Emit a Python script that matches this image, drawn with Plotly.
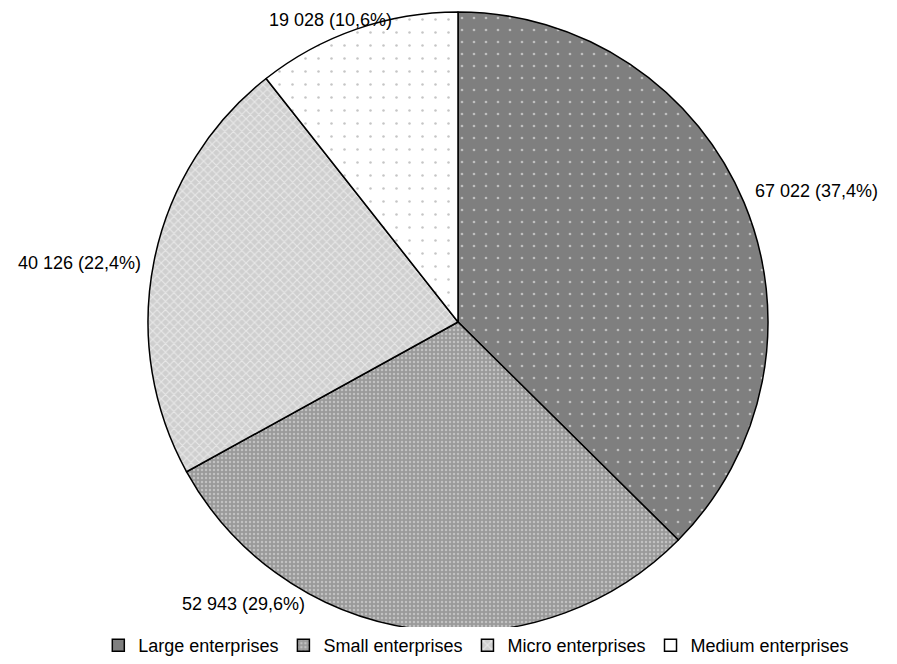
import plotly.graph_objects as go

# Enterprise size classes and their counts
categories = ["Large enterprises", "Small enterprises", "Micro enterprises", "Medium enterprises"]
values = [67022, 52943, 40126, 19028]

# Fill patterns per slice (monochrome print style)
pattern_shapes = [".", ".", "x", "."]
pattern_bg = ["#7f7f7f", "#9a9a9a", "#cfcfcf", "#ffffff"]
pattern_fg = ["#ffffff", "#e8e8e8", "#ffffff", "#8c8c8c"]
pattern_size = [12, 4, 6, 13]
pattern_solidity = [0.04, 0.3, 0.35, 0.03]

W, H = 897, 664
CX, CY, R = 458, 322, 310  # pie centre and radius in pixels

# Label anchor points (pixels) and alignment, Excel-style "best fit" placement
label_pos = [(753, 191, "left"), (307, 604, "right"), (143, 263, "right"), (394, 20, "right")]

FONT = "Liberation Sans, Arial, sans-serif"
FONT_SIZE = 18

total = sum(values)


def fmt_label(v):
    pct = 100.0 * v / total
    return f"{v:,}".replace(",", " ") + " (" + f"{pct:.1f}".replace(".", ",") + "%)"


fig = go.Figure(
    go.Pie(
        labels=categories,
        values=values,
        sort=False,
        direction="clockwise",
        rotation=0,
        textinfo="none",
        marker=dict(
            colors=pattern_bg,
            line=dict(color="#000000", width=1.5),
            pattern=dict(
                shape=pattern_shapes,
                bgcolor=pattern_bg,
                fgcolor=pattern_fg,
                size=pattern_size,
                solidity=pattern_solidity,
                fillmode="overlay",
            ),
        ),
        domain=dict(
            x=[(CX - R) / W, (CX + R) / W],
            y=[1 - (CY + R) / H, 1 - (CY - R) / H],
        ),
        hoverinfo="label+value+percent",
    )
)

for v, (px, py, anchor) in zip(values, label_pos):
    fig.add_annotation(
        x=px / W,
        y=1 - py / H,
        xref="paper",
        yref="paper",
        text=fmt_label(v),
        showarrow=False,
        xanchor=anchor,
        yanchor="middle",
        font=dict(family=FONT, size=FONT_SIZE, color="#000000"),
    )

fig.update_layout(
    width=W,
    height=H,
    paper_bgcolor="#ffffff",
    plot_bgcolor="#ffffff",
    margin=dict(l=0, r=0, t=0, b=0),
    font=dict(family=FONT, size=FONT_SIZE, color="#000000"),
    legend=dict(
        orientation="h",
        x=0.531,
        xanchor="center",
        y=0,
        yanchor="bottom",
        font=dict(family=FONT, size=FONT_SIZE),
        traceorder="normal",
        itemwidth=30,
    ),
)

fig.write_html("out.html")
